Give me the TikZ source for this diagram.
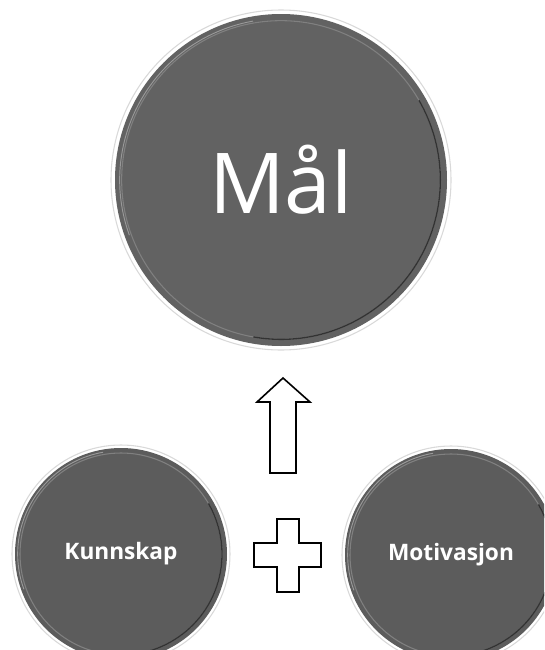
\documentclass[tikz,border=0pt]{standalone}
\usepackage{fontspec}
\setmainfont{Open Sans}
\definecolor{discgray}{HTML}{626262}
\definecolor{discgrayB}{HTML}{5C5C5C}
\tikzset{
  outerring/.style={fill=white, draw=black!15, line width=0.8pt},
  bevel/.style={draw=black!50, line width=0.8pt},
  darkbevel/.style={draw=black!80, line width=1pt},
  hilite/.style={draw=white!35!discgray, line width=0.7pt},
  disc/.style={circle, fill=#1, text=white, inner sep=0pt},
  shapeline/.style={draw=black, fill=white, line width=1.2pt, line join=miter}
}
\begin{document}
\begin{tikzpicture}[x=0.75pt,y=-0.75pt]
\useasboundingbox (0,0) rectangle (544,650);
\clip (0,0) rectangle (544,650);
% big circle
\fill[outerring] (281,180) circle[radius=127.5pt];
\node[disc=discgray, minimum size=249pt, font=\fontsize{63}{63}\selectfont] (goal) at (281,180) {Mål};
\draw[hilite] (goal.center) ++(100:121pt) arc[start angle=100, end angle=200, radius=121pt];
\draw[bevel] (goal.center) circle[radius=119.5pt];
\draw[darkbevel] (goal.center) ++(-100:119.5pt) arc[start angle=-100, end angle=30, radius=119.5pt];
% left circle
\fill[outerring] (121,554) circle[radius=81.75pt];
\node[disc=discgrayB, minimum size=159pt, font=\bfseries\fontsize{17}{17}\selectfont] (know) at (121,554) {Kunnskap};
\draw[hilite] (know.center) ++(100:77.5pt) arc[start angle=100, end angle=200, radius=77.5pt];
\draw[bevel] (know.center) circle[radius=75.75pt];
\draw[darkbevel] (know.center) ++(-100:75.75pt) arc[start angle=-100, end angle=30, radius=75.75pt];
% right circle
\fill[outerring] (451,555) circle[radius=81.75pt];
\node[disc=discgrayB, minimum size=159pt, font=\bfseries\fontsize{17}{17}\selectfont] (motiv) at (451,555) {Motivasjon};
\draw[hilite] (motiv.center) ++(100:77.5pt) arc[start angle=100, end angle=200, radius=77.5pt];
\draw[bevel] (motiv.center) circle[radius=75.75pt];
\draw[darkbevel] (motiv.center) ++(-100:75.75pt) arc[start angle=-100, end angle=30, radius=75.75pt];
% up arrow
\draw[shapeline] (283,378) -- (310,402) -- (296,402) -- (296,473) -- (270,473) -- (270,402) -- (257,402) -- cycle;
% plus sign
\draw[shapeline, line width=1.6pt] (277,519) -- (299,519) -- (299,543) -- (321,543) -- (321,567) -- (299,567) -- (299,592) -- (277,592) -- (277,567) -- (254,567) -- (254,543) -- (277,543) -- cycle;
\end{tikzpicture}
\end{document}
